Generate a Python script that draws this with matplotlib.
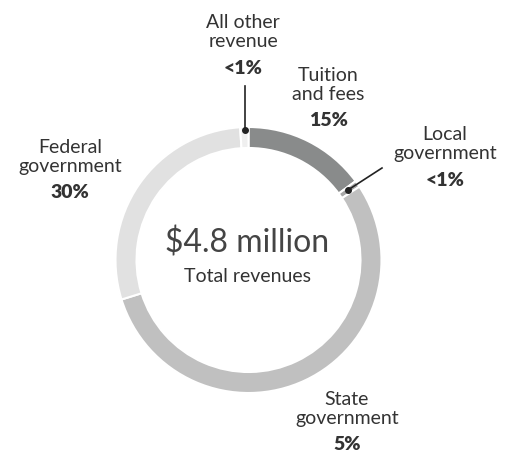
import matplotlib.pyplot as plt

# revenue shares as drawn (clockwise from the top)
segments = ['Tuition and fees', 'Local government', 'State government',
            'Federal government', 'All other revenue']
shares = [14.9, 0.8, 54.5, 28.8, 1.0]
colors = ['#898b8b', '#a6a6a6', '#c0c0c0', '#e1e1e1', '#efefef']

# label text as printed
label_names = ['Tuition\nand fees', 'Local\ngovernment', 'State\ngovernment',
               'Federal\ngovernment', 'All other\nrevenue']
label_pcts = ['15%', '<1%', '5%', '30%', '<1%']

total_text = '$4.8 million'
total_sub = 'Total revenues'

W, H = 518, 454
fig = plt.figure(figsize=(W / 100, H / 100), dpi=100)
ax = fig.add_axes([0, 0, 1, 1])
ax.set_xlim(0, W)
ax.set_ylim(0, H)
ax.set_aspect('equal')
ax.axis('off')

cx, cy, r = 248.5, H - 260, 133
ax.pie(shares, colors=colors, startangle=90, counterclock=False,
       center=(cx, cy), radius=r,
       wedgeprops=dict(width=21, edgecolor='white', linewidth=1.5))
ax.set_xlim(0, W)
ax.set_ylim(0, H)

plt.rcParams['font.family'] = ['Lato', 'DejaVu Sans']
tc = '#333333'

ax.text(cx - 1, H - 243, total_text, ha='center', va='center',
        fontsize=23, fontweight='normal', color='#444444')
ax.text(cx - 1, H - 277, total_sub, ha='center', va='center',
        fontsize=14, color=tc)

# label positions in pixels (x, y of the name block centre)
label_pos = [(328, 85), (445, 144), (347, 409), (70, 157), (243, 32)]
for name, pct, (x, y) in zip(label_names, label_pcts, label_pos):
    ax.text(x, H - y, name, ha='center', va='center', fontsize=14,
            color=tc, linespacing=1.2)
    ax.text(x, H - y - 36, pct, ha='center', va='center', fontsize=14,
            fontweight='heavy', color=tc)

# leader lines for the thin slices
ax.plot([245, 245], [H - 86, H - 130], color='#222222', lw=1.2)
ax.plot([245], [H - 130], 'o', color='#222222', ms=4)
ax.plot([382, 348], [H - 168, H - 190], color='#222222', lw=1.2)
ax.plot([348], [H - 190], 'o', color='#222222', ms=4)

fig.savefig('out.png', dpi=100)
